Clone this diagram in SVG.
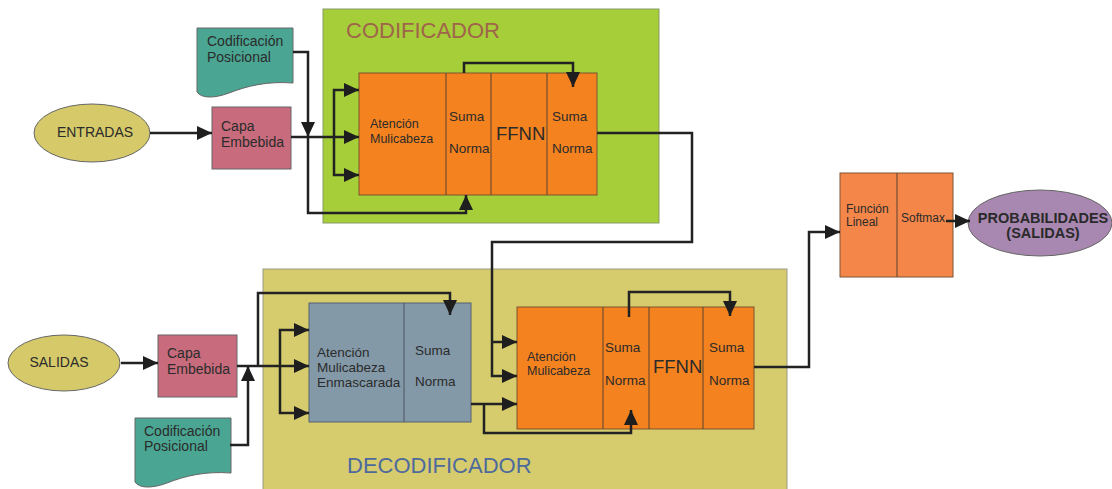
<svg xmlns="http://www.w3.org/2000/svg" width="1112" height="489" viewBox="0 0 1112 489">
<style>
text{font-family:"Liberation Sans",Arial,sans-serif;fill:#2b2b2b}
.t14{font-size:14px}
.t125{font-size:12.5px}
.t135{font-size:13.5px}
.t12{font-size:12px}
.ff{font-size:18.5px}
.title{font-size:22px}
.box{stroke:#666;stroke-width:1}
.orange{fill:#f4821f;stroke:#7a5530;stroke-width:1}
.div{stroke:#5a4530;stroke-width:1}
.conn{fill:none;stroke:#222;stroke-width:2.5}
</style>
<defs>
<marker id="ah" markerUnits="userSpaceOnUse" markerWidth="15" markerHeight="14" refX="15" refY="7" orient="auto">
<path d="M0,0 L15,7 L0,14 Z" fill="#1e1e1e"/>
</marker>
<path id="doc" d="M0,0 H96 V55 C70,53 50,58 32,65 C16,71 4,70 0,64 Z"/>
</defs>
<rect width="1112" height="489" fill="#ffffff"/>

<g id="codificador">
<rect x="323" y="9" width="336" height="214" fill="#a6ce39" stroke="#8a9a6a" stroke-width="1"/>
<text x="346" y="38" class="title" style="fill:#a0644a">CODIFICADOR</text>
</g>

<g id="decodificador">
<rect x="263" y="269" width="524" height="240" fill="#d6cc6e" stroke="#9a9a8a" stroke-width="1"/>
<text x="347" y="473" class="title" style="fill:#4e6a9c">DECODIFICADOR</text>
</g>

<g id="entradas">
<ellipse cx="92" cy="133" rx="58" ry="29" fill="#d5c96a" class="box"/>
<text x="95" y="137" class="t14" text-anchor="middle">ENTRADAS</text>
</g>

<g id="capa-embebida-enc">
<rect x="212" y="107" width="79" height="62" fill="#c86b7d" class="box"/>
<text x="221" y="131" class="t14">Capa</text>
<text x="221" y="147" class="t14">Embebida</text>
</g>

<g id="codif-posicional-enc">
<use href="#doc" x="197" y="28" fill="#4aa592" class="box"/>
<text x="207" y="46" class="t14">Codificación</text>
<text x="207" y="62" class="t14">Posicional</text>
</g>

<g id="encoder-block">
<rect x="359" y="73" width="238" height="122" class="orange"/>
<line x1="446" y1="73" x2="446" y2="195" class="div"/>
<line x1="491" y1="73" x2="491" y2="195" class="div"/>
<line x1="547" y1="73" x2="547" y2="195" class="div"/>
<text x="370" y="128" class="t125">Atención</text>
<text x="370" y="143" class="t125">Mulicabeza</text>
<text x="449" y="121" class="t135">Suma</text>
<text x="449" y="153" class="t135">Norma</text>
<text x="496" y="140" class="ff">FFNN</text>
<text x="552" y="121" class="t135">Suma</text>
<text x="552" y="153" class="t135">Norma</text>
</g>

<g id="salidas">
<ellipse cx="64" cy="363" rx="56" ry="28" fill="#d5c96a" class="box"/>
<text x="59" y="367" class="t14" text-anchor="middle">SALIDAS</text>
</g>

<g id="capa-embebida-dec">
<rect x="158" y="335" width="79" height="62" fill="#c86b7d" class="box"/>
<text x="167" y="358" class="t14">Capa</text>
<text x="167" y="374" class="t14">Embebida</text>
</g>

<g id="codif-posicional-dec">
<use href="#doc" x="135" y="418" fill="#4aa592" class="box"/>
<text x="144" y="436" class="t14">Codificación</text>
<text x="144" y="451" class="t14">Posicional</text>
</g>

<g id="masked-block">
<rect x="309" y="303" width="162" height="119" fill="#8399a8" stroke="#556070" stroke-width="1"/>
<line x1="404" y1="303" x2="404" y2="422" stroke="#4a5560" stroke-width="1"/>
<text x="317" y="357" class="t135">Atención</text>
<text x="317" y="372" class="t135">Mulicabeza</text>
<text x="317" y="387" class="t135">Enmascarada</text>
<text x="415" y="355" class="t135">Suma</text>
<text x="415" y="386" class="t135">Norma</text>
</g>

<g id="decoder-block">
<rect x="517" y="307" width="237" height="122" class="orange"/>
<line x1="603" y1="307" x2="603" y2="429" class="div"/>
<line x1="649" y1="307" x2="649" y2="429" class="div"/>
<line x1="703" y1="307" x2="703" y2="429" class="div"/>
<text x="527" y="361" class="t125">Atención</text>
<text x="527" y="375" class="t125">Mulicabeza</text>
<text x="605" y="352" class="t135">Suma</text>
<text x="605" y="385" class="t135">Norma</text>
<text x="653" y="373" class="ff">FFNN</text>
<text x="709" y="352" class="t135">Suma</text>
<text x="709" y="385" class="t135">Norma</text>
</g>

<g id="lineal-softmax">
<rect x="840" y="173" width="113" height="104" fill="#f4864a" stroke="#7a5530" stroke-width="1"/>
<line x1="897" y1="173" x2="897" y2="277" class="div"/>
<text x="846" y="213" class="t12">Función</text>
<text x="846" y="226" class="t12">Lineal</text>
<text x="901" y="222" class="t12">Softmax</text>
</g>

<g id="probabilidades">
<ellipse cx="1040" cy="223" rx="72" ry="33" fill="#a887b1" class="box"/>
<text x="1043" y="223" text-anchor="middle" style="font-size:14.5px;font-weight:bold;fill:#2a2a2a">PROBABILIDADES</text>
<text x="1043" y="238" text-anchor="middle" style="font-size:14.5px;font-weight:bold;fill:#2a2a2a">(SALIDAS)</text>
</g>

<g id="connectors">
<!-- encoder side -->
<path class="conn" d="M150,133 H212" marker-end="url(#ah)"/>
<path class="conn" d="M291,137 H359" marker-end="url(#ah)"/>
<path class="conn" d="M293,52 H308 V137" marker-end="url(#ah)"/>
<path class="conn" d="M308,137 V213 H466 V195" marker-end="url(#ah)"/>
<path class="conn" d="M334,137 V90 H359" marker-end="url(#ah)"/>
<path class="conn" d="M334,137 V175 H359" marker-end="url(#ah)"/>
<path class="conn" d="M464,73 V63 H573 V87" marker-end="url(#ah)"/>
<!-- encoder to decoder -->
<path class="conn" d="M597,133 H692 V242 H492 V376 H517" marker-end="url(#ah)"/>
<path class="conn" d="M492,342 H517" marker-end="url(#ah)"/>
<!-- decoder side -->
<path class="conn" d="M121,363 H158" marker-end="url(#ah)"/>
<path class="conn" d="M237,366 H309" marker-end="url(#ah)"/>
<path class="conn" d="M230,445 H248 V366" marker-end="url(#ah)"/>
<path class="conn" d="M258,366 V293 H450 V315" marker-end="url(#ah)"/>
<path class="conn" d="M280,366 V330 H309" marker-end="url(#ah)"/>
<path class="conn" d="M280,366 V413 H309" marker-end="url(#ah)"/>
<path class="conn" d="M471,404 H517" marker-end="url(#ah)"/>
<path class="conn" d="M484,404 V433 H631 V410" marker-end="url(#ah)"/>
<path class="conn" d="M629,317 V292 H730 V316" marker-end="url(#ah)"/>
<!-- output -->
<path class="conn" d="M754,367 H809 V232 H840" marker-end="url(#ah)"/>
<path class="conn" d="M946,221 H970" marker-end="url(#ah)"/>
</g>
</svg>
